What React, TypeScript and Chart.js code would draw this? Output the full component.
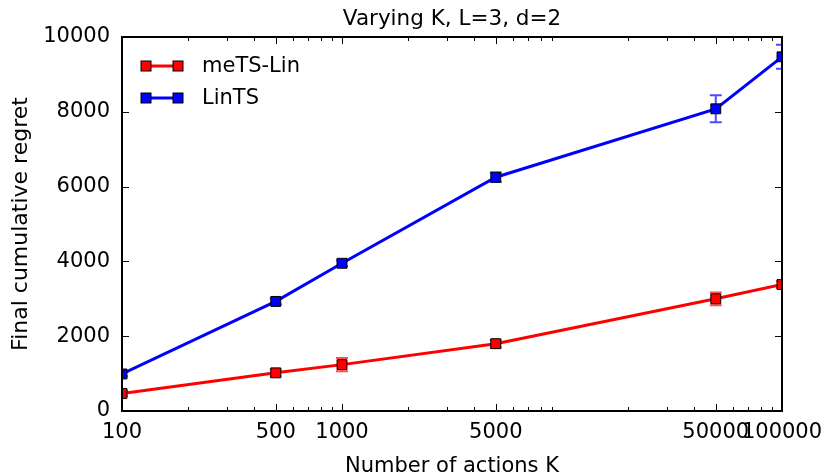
import React, { useEffect, useRef } from "react";
import { Chart, registerables } from "chart.js";

Chart.register(...registerables);

const actionsK = [100, 500, 1000, 5000, 50000, 100000];
const metsLin = [470, 1020, 1240, 1800, 3000, 3380];
const metsLinErr = [70, 90, 180, 100, 170, 90];
const linTS = [990, 2930, 3950, 6250, 8080, 9470];
const linTSErr = [60, 80, 80, 130, 360, 320];

const xTickLabels = [100, 500, 1000, 5000, 50000, 100000];
const xMinorTicks = [200, 300, 400, 600, 700, 800, 900, 2000, 3000, 4000, 6000, 7000, 8000, 9000, 20000, 30000, 40000, 60000, 70000, 80000, 90000];
const yTicks = [0, 2000, 4000, 6000, 8000, 10000];

const seriesNames = ["meTS-Lin", "LinTS"];
const chartTitle = "Varying K, L=3, d=2";
const FONT = "'DejaVu Sans', sans-serif";

const errorBarPlugin = {
  id: "errorBars",
  beforeDatasetsDraw(chart: any) {
    const { ctx, chartArea, scales } = chart;
    const sets = [
      { vals: metsLin, errs: metsLinErr, color: "rgba(255,0,0,0.7)" },
      { vals: linTS, errs: linTSErr, color: "rgba(0,0,255,0.7)" },
    ];
    ctx.save();
    ctx.beginPath();
    ctx.rect(chartArea.left, chartArea.top, chartArea.right - chartArea.left, chartArea.bottom - chartArea.top);
    ctx.clip();
    ctx.lineWidth = 2;
    for (const s of sets) {
      ctx.strokeStyle = s.color;
      actionsK.forEach((k, i) => {
        const x = scales.x.getPixelForValue(k);
        const y1 = scales.y.getPixelForValue(s.vals[i] - s.errs[i]);
        const y2 = scales.y.getPixelForValue(s.vals[i] + s.errs[i]);
        ctx.beginPath();
        ctx.moveTo(x, y1);
        ctx.lineTo(x, y2);
        ctx.moveTo(x - 6, y1);
        ctx.lineTo(x + 6, y1);
        ctx.moveTo(x - 6, y2);
        ctx.lineTo(x + 6, y2);
        ctx.stroke();
      });
    }
    ctx.restore();
  },
};

const framePlugin = {
  id: "frameTicks",
  afterDraw(chart: any) {
    const { ctx, chartArea, scales } = chart;
    const { left, right, top, bottom } = chartArea;
    ctx.save();
    ctx.strokeStyle = "#000";
    ctx.lineWidth = 1;
    const drawX = (v: number, len: number) => {
      const x = Math.round(scales.x.getPixelForValue(v)) + 0.5;
      ctx.beginPath();
      ctx.moveTo(x, bottom);
      ctx.lineTo(x, bottom - len);
      ctx.moveTo(x, top);
      ctx.lineTo(x, top + len);
      ctx.stroke();
    };
    xTickLabels.forEach((v) => drawX(v, 7));
    xMinorTicks.forEach((v) => drawX(v, 4));
    yTicks.forEach((v) => {
      const y = Math.round(scales.y.getPixelForValue(v)) + 0.5;
      ctx.beginPath();
      ctx.moveTo(left, y);
      ctx.lineTo(left + 7, y);
      ctx.moveTo(right, y);
      ctx.lineTo(right - 7, y);
      ctx.stroke();
    });
    ctx.lineWidth = 2;
    ctx.strokeRect(left, top, right - left, bottom - top);

    // title
    ctx.fillStyle = "#000";
    ctx.font = `21.5px ${FONT}`;
    ctx.textAlign = "center";
    ctx.textBaseline = "middle";
    ctx.fillText(chartTitle, (left + right) / 2, 19);

    // legend
    const colors = ["#ff0000", "#0000ff"];
    const rows = [66, 98];
    ctx.font = `21px ${FONT}`;
    ctx.textBaseline = "middle";
    ctx.textAlign = "left";
    rows.forEach((y, i) => {
      ctx.strokeStyle = colors[i];
      ctx.lineWidth = 3;
      ctx.beginPath();
      ctx.moveTo(146, y);
      ctx.lineTo(178, y);
      ctx.stroke();
      [146, 178].forEach((cx) => {
        ctx.fillStyle = colors[i];
        ctx.fillRect(cx - 5, y - 5, 10, 10);
        ctx.strokeStyle = "#000";
        ctx.lineWidth = 1;
        ctx.strokeRect(cx - 5, y - 5, 10, 10);
      });
      ctx.fillStyle = "#000";
      ctx.fillText(seriesNames[i], 202, y + 1);
    });
    ctx.restore();
  },
};

export default function App() {
  const ref = useRef<HTMLCanvasElement>(null);
  useEffect(() => {
    document.body.style.margin = "0";
    const canvas = ref.current!;
    const mk = (vals: number[], color: string, label: string) => ({
      label,
      data: actionsK.map((k, i) => ({ x: k, y: vals[i] })),
      borderColor: color,
      backgroundColor: color,
      borderWidth: 3,
      pointStyle: "rect",
      pointRadius: 7,
      pointBackgroundColor: color,
      pointBorderColor: "#000",
      pointBorderWidth: 1,
      tension: 0,
      clip: 0,
    });
    const chart = new Chart(canvas, {
      type: "line",
      data: {
        datasets: [mk(metsLin, "#ff0000", seriesNames[0]), mk(linTS, "#0000ff", seriesNames[1])],
      },
      options: {
        responsive: false,
        animation: false,
        layout: { padding: { left: 0, right: 44, top: 37, bottom: 0 } },
        plugins: {
          legend: { display: false },
          tooltip: { enabled: false },
          title: { display: false },
        },
        scales: {
          x: {
            type: "logarithmic",
            min: 100,
            max: 100000,
            grid: { display: false, drawTicks: false },
            border: { display: false },
            afterBuildTicks: (s: any) => {
              s.ticks = xTickLabels.map((v) => ({ value: v }));
            },
            afterFit: (s: any) => {
              s.height = 64;
              s.paddingLeft = 0;
              s.paddingRight = 0;
            },
            ticks: {
              autoSkip: false,
              maxRotation: 0,
              color: "#000",
              padding: 9,
              font: { family: FONT, size: 21 },
              callback: (v: any) => String(v),
            },
            title: {
              display: true,
              text: "Number of actions K",
              color: "#000",
              font: { family: FONT, size: 21, lineHeight: 1.0 },
              padding: { top: 0, bottom: -2 },
            },
          },
          y: {
            type: "linear",
            min: 0,
            max: 10000,
            grid: { display: false, drawTicks: false },
            border: { display: false },
            afterBuildTicks: (s: any) => {
              s.ticks = yTicks.map((v) => ({ value: v }));
            },
            afterFit: (s: any) => {
              s.width = 122;
              s.paddingTop = 0;
              s.paddingBottom = 0;
            },
            ticks: {
              color: "#000",
              padding: 12,
              font: { family: FONT, size: 21 },
              callback: (v: any) => String(v),
            },
            title: {
              display: true,
              text: "Final cumulative regret",
              color: "#000",
              font: { family: FONT, size: 22, lineHeight: 1.2 },
              padding: { top: 8, bottom: 0 },
            },
          },
        },
      },
      plugins: [errorBarPlugin, framePlugin],
    } as any);
    return () => chart.destroy();
  }, []);
  return (
    <div style={{ width: 826, height: 475 }}>
      <canvas ref={ref} width={826} height={475} />
    </div>
  );
}
